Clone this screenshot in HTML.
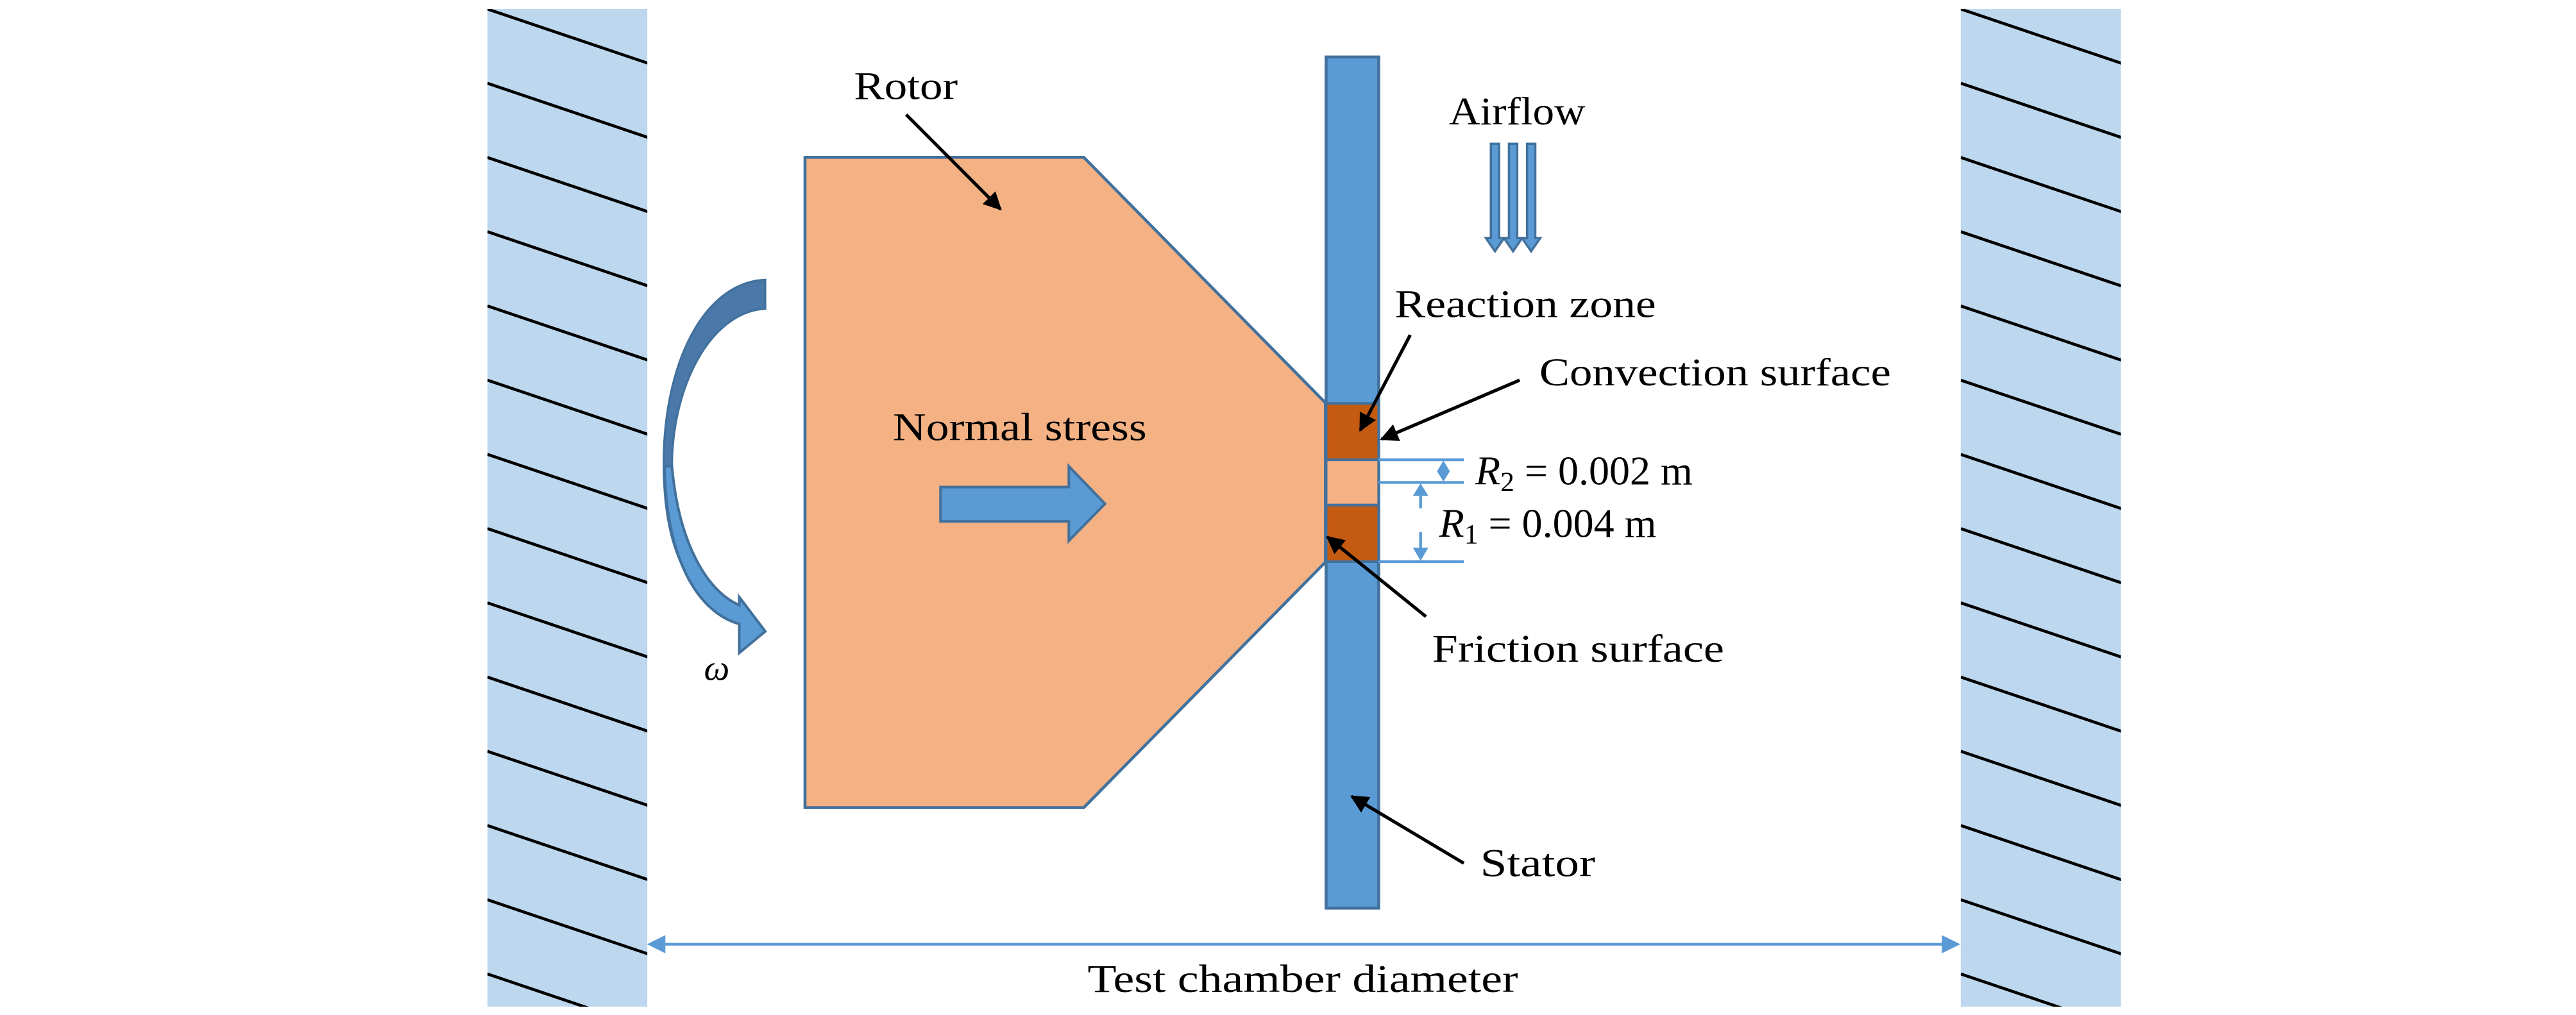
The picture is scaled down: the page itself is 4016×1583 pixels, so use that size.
<!DOCTYPE html>
<html><head><meta charset="utf-8"><style>html,body{margin:0;padding:0;background:#fff}svg{display:block}</style></head>
<body>
<svg width="4016" height="1583" viewBox="0 0 1568 618.1" preserveAspectRatio="none" xmlns="http://www.w3.org/2000/svg" font-family="Liberation Serif, serif" font-size="24">
<defs>
<marker id="ah" viewBox="0 0 10 10" refX="9" refY="5" markerWidth="13" markerHeight="11" markerUnits="userSpaceOnUse" orient="auto"><path d="M0,0 L10,5 L0,10 Z" fill="#000"/></marker>
<clipPath id="cl"><rect x="296.7" y="5.5" width="97.3" height="607.5"/></clipPath>
<clipPath id="cr"><rect x="1193.5" y="5.5" width="97.5" height="607.5"/></clipPath>
</defs>
<rect x="296.7" y="5.5" width="97.3" height="607.5" fill="#bdd7ee"/>
<rect x="1193.5" y="5.5" width="97.5" height="607.5" fill="#bdd7ee"/>
<g stroke="#000" stroke-width="1.8" clip-path="url(#cl)">
<g id="hl">
<line x1="296.7" y1="5.5" x2="395" y2="38.7"/><line x1="296.7" y1="50.7" x2="395" y2="83.9"/><line x1="296.7" y1="95.9" x2="395" y2="129.1"/><line x1="296.7" y1="141.1" x2="395" y2="174.3"/><line x1="296.7" y1="186.3" x2="395" y2="219.5"/><line x1="296.7" y1="231.5" x2="395" y2="264.7"/><line x1="296.7" y1="276.7" x2="395" y2="309.9"/><line x1="296.7" y1="321.9" x2="395" y2="355.1"/><line x1="296.7" y1="367.1" x2="395" y2="400.3"/><line x1="296.7" y1="412.3" x2="395" y2="445.5"/><line x1="296.7" y1="457.5" x2="395" y2="490.7"/><line x1="296.7" y1="502.7" x2="395" y2="535.9"/><line x1="296.7" y1="547.9" x2="395" y2="581.1"/><line x1="296.7" y1="593.1" x2="395" y2="626.3"/>
</g></g>
<g stroke="#000" stroke-width="1.8" clip-path="url(#cr)">
<use href="#hl" transform="translate(896.8,0)"/>
</g>
<polygon points="490,95.8 659.7,95.8 806.8,245.3 806.8,342.3 659.7,491.8 490,491.8" fill="#f4b183" stroke="#41719c" stroke-width="1.8"/>
<rect x="807.2" y="34.7" width="32" height="518.3" fill="#5b9bd5" stroke="#41719c" stroke-width="1.8"/>
<rect x="807.2" y="245.7" width="32" height="34.3" fill="#c55a11" stroke="#41719c" stroke-width="1.6"/>
<rect x="807.2" y="280" width="32" height="27.6" fill="#f4b183" stroke="#41719c" stroke-width="1.6"/>
<rect x="807.2" y="307.6" width="32" height="34.4" fill="#c55a11" stroke="#41719c" stroke-width="1.6"/>
<g stroke="#5b9bd5" stroke-width="1.7" fill="#5b9bd5">
<line x1="839" y1="280" x2="891" y2="280"/><line x1="839" y1="293.8" x2="891" y2="293.8"/><line x1="839" y1="342" x2="891" y2="342"/>
<polygon points="878.6,280.5 882.5,287 878.6,293.3 874.7,287" stroke="none"/>
<line x1="864.7" y1="300" x2="864.7" y2="309.6"/><polygon points="864.7,294.3 860,302 869.4,302" stroke="none"/>
<line x1="864.7" y1="324" x2="864.7" y2="335"/><polygon points="864.7,341.5 860,333.5 869.4,333.5" stroke="none"/>
</g>
<polygon points="572.5,296.6 650.6,296.6 650.6,284 672.6,306.8 650.6,329.3 650.6,317.5 572.5,317.5" fill="#5b9bd5" stroke="#41719c" stroke-width="1.6"/>
<g fill="#5b9bd5" stroke="#41719c" stroke-width="1.4">
<polygon points="907.5,87.6 912.5,87.6 912.5,145 915.5,145 910,153 904.5,145 907.5,145"/>
<polygon points="918.5,87.6 923.5,87.6 923.5,145 926.5,145 921,153 915.5,145 918.5,145"/>
<polygon points="929.5,87.6 934.5,87.6 934.5,145 937.5,145 932,153 926.5,145 929.5,145"/>
</g>
<path d="M465.8,170.4 C428,172 404,222 404,282 C404,335 420,362 440,368 L438,364 C421,345 409,318 409,284 C409,236 432,190 465.8,188 Z" fill="#4a78a8" stroke="#41719c" stroke-width="1.3"/>
<path d="M404.5,284 C405,335 422,372 450,380 L450,397.6 L465.8,384.5 L450,363.6 L450,368.5 C430,360 413,330 409,284 Z" fill="#5b9bd5" stroke="#41719c" stroke-width="1.6"/>
<line x1="403" y1="575" x2="1184" y2="575" stroke="#5b9bd5" stroke-width="1.7"/>
<polygon points="393.8,575 405,569.5 405,580.5" fill="#5b9bd5"/>
<polygon points="1193.3,575 1182,569.5 1182,580.5" fill="#5b9bd5"/>
<g stroke="#000" stroke-width="2" marker-end="url(#ah)">
<line x1="551.6" y1="69.8" x2="609" y2="127.4"/>
<line x1="858.4" y1="204" x2="828" y2="262"/>
<line x1="925" y1="231.5" x2="841" y2="267.4"/>
<line x1="868" y1="375.5" x2="808" y2="327"/>
<line x1="891" y1="525.7" x2="822.8" y2="485"/>
</g>
<g fill="#000">
<text x="519.8" y="60.3" textLength="63.2" lengthAdjust="spacingAndGlyphs">Rotor</text>
<text x="543.5" y="268" textLength="154.5" lengthAdjust="spacingAndGlyphs">Normal stress</text>
<text x="882" y="75.7" textLength="83" lengthAdjust="spacingAndGlyphs">Airflow</text>
<text x="849" y="193" textLength="159" lengthAdjust="spacingAndGlyphs">Reaction zone</text>
<text x="937" y="234.7" textLength="214" lengthAdjust="spacingAndGlyphs">Convection surface</text>
<text x="871.7" y="403" textLength="177.8" lengthAdjust="spacingAndGlyphs">Friction surface</text>
<text x="901" y="533.6" textLength="70" lengthAdjust="spacingAndGlyphs">Stator</text>
<text x="662" y="604" textLength="262" lengthAdjust="spacingAndGlyphs">Test chamber diameter</text>
<text x="428.5" y="414" font-style="italic" font-size="22">ω</text>
<text x="898" y="295" font-size="25"><tspan font-style="italic">R</tspan><tspan font-size="17" dy="4">2</tspan><tspan dy="-4"> = 0.002 m</tspan></text>
<text x="876" y="327" font-size="25"><tspan font-style="italic">R</tspan><tspan font-size="17" dy="4">1</tspan><tspan dy="-4"> = 0.004 m</tspan></text>
</g>
</svg>
</body></html>
